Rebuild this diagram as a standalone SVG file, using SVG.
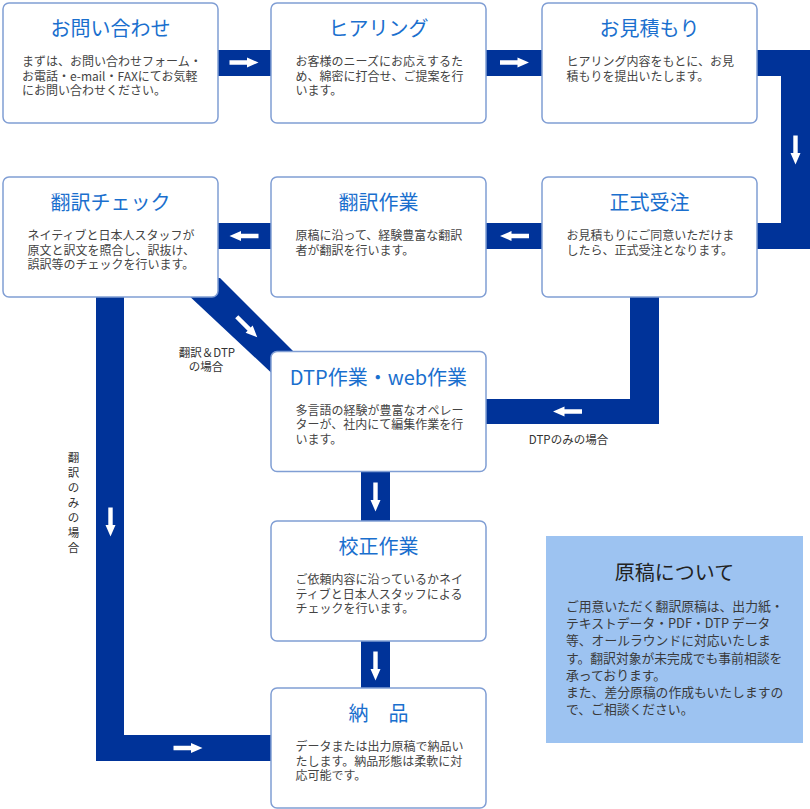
<svg xmlns="http://www.w3.org/2000/svg" xmlns:xlink="http://www.w3.org/1999/xlink" width="810" height="809" viewBox="0 0 810 809">
<style>
.box{fill:#fff;stroke:#809ED4;stroke-width:1.5}
.band{fill:#003399}
.ar{fill:#fff}
.t{font-family:"Noto Sans CJK JP","Noto Sans",sans-serif;font-size:20px;fill:#1A6FCE;text-anchor:middle}
.b{font-family:"Noto Sans CJK JP","Noto Sans",sans-serif;font-size:12px;fill:#444}
.l{font-family:"Noto Sans CJK JP","Noto Sans",sans-serif;font-size:11.5px;fill:#333}
.it{font-family:"Noto Sans CJK JP","Noto Sans",sans-serif;font-size:20px;fill:#222;text-anchor:middle}
.ib{font-family:"Noto Sans CJK JP","Noto Sans",sans-serif;font-size:12.8px;fill:#3a3a3a}
</style>
<defs>
<path id="arrow" class="ar" d="M-14.5,-2.2 H3 V-5 L14.5,0 L3,5 V2.2 H-14.5 Z"/>
</defs>
<rect width="810" height="809" fill="#fff"/>
<g id="connectors">
<rect class="band" x="214" y="50" width="61" height="26"/>
<rect class="band" x="482" y="50" width="64" height="26"/>
<path class="band" d="M752,50 H810 V249 H752 V223 H781 V76 H752 Z"/>
<rect class="band" x="482" y="223" width="64" height="26"/>
<rect class="band" x="214" y="223" width="61" height="26"/>
<path class="band" d="M630,290 H659 V424 H480 V399 H630 Z"/>
<path class="band" d="M96,290 H124 V735 H275 V761 H96 Z"/>
<path class="band" d="M170,278 H220 L302,360 L279,380 Z"/>
<rect class="band" x="361" y="466" width="29" height="60"/>
<rect class="band" x="361" y="636" width="29" height="57"/>
<use xlink:href="#arrow" transform="translate(244,62.5)"/>
<use xlink:href="#arrow" transform="translate(514.5,62.5)"/>
<use xlink:href="#arrow" transform="translate(795.5,150) rotate(90)"/>
<use xlink:href="#arrow" transform="translate(514.5,236) rotate(180)"/>
<use xlink:href="#arrow" transform="translate(244,236) rotate(180)"/>
<use xlink:href="#arrow" transform="translate(247,327) rotate(45)"/>
<use xlink:href="#arrow" transform="translate(567.5,411.5) rotate(180)"/>
<use xlink:href="#arrow" transform="translate(110.5,522) rotate(90)"/>
<use xlink:href="#arrow" transform="translate(188,748)"/>
<use xlink:href="#arrow" transform="translate(375.5,497) rotate(90)"/>
<use xlink:href="#arrow" transform="translate(375.5,666) rotate(90)"/>
<text class="l" x="207" y="357" text-anchor="middle">翻訳＆DTP</text>
<text class="l" x="206" y="371" text-anchor="middle">の場合</text>
<text class="l" x="568.5" y="444" text-anchor="middle">DTPのみの場合</text>
<text class="l" text-anchor="middle" font-size="12"><tspan x="73.5" y="462">翻</tspan><tspan x="73.5" y="477">訳</tspan><tspan x="73.5" y="492">の</tspan><tspan x="73.5" y="507">み</tspan><tspan x="73.5" y="522">の</tspan><tspan x="73.5" y="537">場</tspan><tspan x="73.5" y="552">合</tspan></text>
</g>
<g id="inquiry">
<rect class="box" x="3" y="3" width="215" height="120" rx="6"/>
<text class="t" x="110.5" y="36">お問い合わせ</text>
<text class="b"><tspan x="22" y="66">まずは、お問い合わせフォーム・</tspan><tspan x="22" y="80.7">お電話・e-mail・FAXにてお気軽</tspan><tspan x="22" y="95.4">にお問い合わせください。</tspan></text>
</g>
<g id="hearing">
<rect class="box" x="271" y="3" width="215" height="120" rx="6"/>
<text class="t" x="378.5" y="36">ヒアリング</text>
<text class="b"><tspan x="295.5" y="66">お客様のニーズにお応えするた</tspan><tspan x="295.5" y="80.7">め、綿密に打合せ、ご提案を行</tspan><tspan x="295.5" y="95.4">います。</tspan></text>
</g>
<g id="estimate">
<rect class="box" x="542" y="3" width="215" height="120" rx="6"/>
<text class="t" x="649.5" y="36">お見積もり</text>
<text class="b"><tspan x="566.5" y="66">ヒアリング内容をもとに、お見</tspan><tspan x="566.5" y="80.7">積もりを提出いたします。</tspan></text>
</g>
<g id="check">
<rect class="box" x="3" y="177" width="215" height="120" rx="6"/>
<text class="t" x="110.5" y="210">翻訳チェック</text>
<text class="b"><tspan x="27.5" y="240">ネイティブと日本人スタッフが</tspan><tspan x="27.5" y="254.7">原文と訳文を照合し、訳抜け、</tspan><tspan x="27.5" y="269.4">誤訳等のチェックを行います。</tspan></text>
</g>
<g id="translation">
<rect class="box" x="271" y="177" width="215" height="120" rx="6"/>
<text class="t" x="378.5" y="210">翻訳作業</text>
<text class="b"><tspan x="295.5" y="240">原稿に沿って、経験豊富な翻訳</tspan><tspan x="295.5" y="254.7">者が翻訳を行います。</tspan></text>
</g>
<g id="order">
<rect class="box" x="542" y="177" width="215" height="120" rx="6"/>
<text class="t" x="649.5" y="210">正式受注</text>
<text class="b"><tspan x="566.5" y="240">お見積もりにご同意いただけま</tspan><tspan x="566.5" y="254.7">したら、正式受注となります。</tspan></text>
</g>
<g id="dtp">
<rect class="box" x="271" y="351.5" width="215" height="120" rx="6"/>
<text class="t" x="378.5" y="385">DTP作業・web作業</text>
<text class="b"><tspan x="295.5" y="414.5">多言語の経験が豊富なオペレー</tspan><tspan x="295.5" y="429.2">ターが、社内にて編集作業を行</tspan><tspan x="295.5" y="443.9">います。</tspan></text>
</g>
<g id="proofreading">
<rect class="box" x="271" y="521" width="215" height="120" rx="6"/>
<text class="t" x="378.5" y="554">校正作業</text>
<text class="b"><tspan x="295.5" y="584">ご依頼内容に沿っているかネイ</tspan><tspan x="295.5" y="598.7">ティブと日本人スタッフによる</tspan><tspan x="295.5" y="613.4">チェックを行います。</tspan></text>
</g>
<g id="delivery">
<rect class="box" x="271" y="688" width="215" height="120" rx="6"/>
<text class="t" x="378.5" y="721">納　品</text>
<text class="b"><tspan x="295.5" y="751">データまたは出力原稿で納品い</tspan><tspan x="295.5" y="765.7">たします。納品形態は柔軟に対</tspan><tspan x="295.5" y="780.4">応可能です。</tspan></text>
</g>
<g id="manuscript">
<rect x="546" y="536" width="257" height="207" fill="#9DC3F1"/>
<text class="it" x="674.5" y="580">原稿について</text>
<text class="ib"><tspan x="566" y="611">ご用意いただく翻訳原稿は、出力紙・</tspan><tspan x="566" y="628.2">テキストデータ・PDF・DTP データ</tspan><tspan x="566" y="645.4">等、オールラウンドに対応いたしま</tspan><tspan x="566" y="662.6">す。翻訳対象が未完成でも事前相談を</tspan><tspan x="566" y="679.8">承っております。</tspan><tspan x="566" y="697">また、差分原稿の作成もいたしますの</tspan><tspan x="566" y="714.2">で、ご相談ください。</tspan></text>
</g>
</svg>
